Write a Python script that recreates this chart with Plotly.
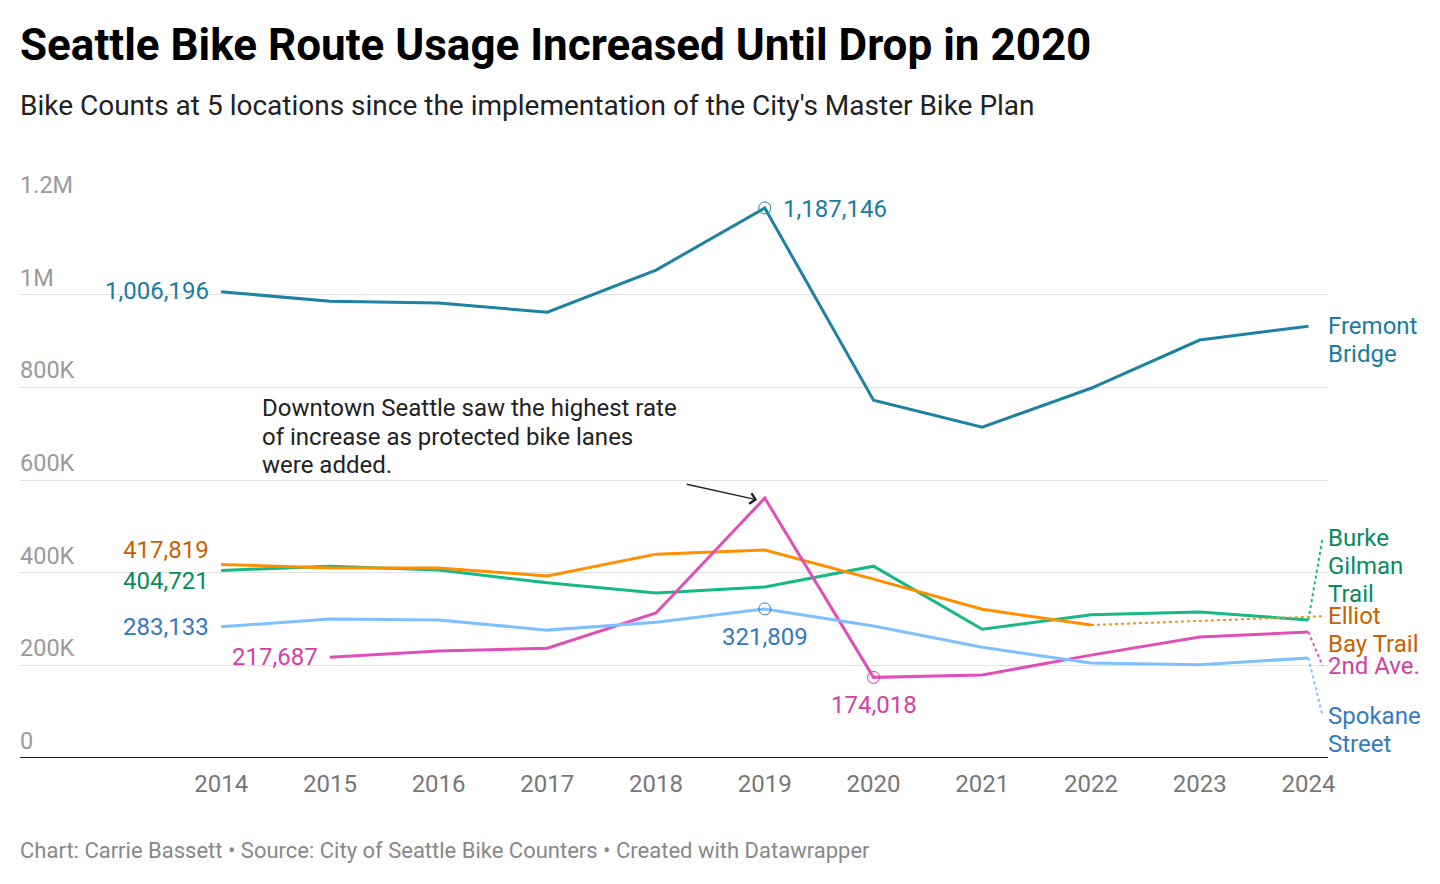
import plotly.graph_objects as go

years = [2014, 2015, 2016, 2017, 2018, 2019, 2020, 2021, 2022, 2023, 2024]

fremont = [1006196, 986000, 982000, 962000, 1053000, 1187146, 772000, 714000, 798000, 902000, 932000]
burke = [404721, 414000, 406000, 378000, 356000, 369000, 414000, 278000, 309000, 315000, 298000]
elliot = [417819, 410000, 410000, 393000, 440000, 449000, 386000, 321000, 287000, None, None]
second_ave = [None, 217687, 231000, 237000, 313000, 561000, 174018, 179000, 222000, 261000, 272000]
spokane = [283133, 300000, 298000, 276000, 293000, 321809, 285000, 239000, 205000, 201000, 216000]

y_ticks = [0, 200000, 400000, 600000, 800000, 1000000, 1200000]
y_tick_labels = ["0", "200K", "400K", "600K", "800K", "1M", "1.2M"]

series = [
    # name, values, line color, text color, end label lines, first line y (value units)
    ("Fremont Bridge", fremont, "#1d81a2", "#1a7c9d", ["Fremont", "Bridge"], 932000),
    ("Burke Gilman Trail", burke, "#15b886", "#0a8a5c", ["Burke", "Gilman", "Trail"], 475000),
    ("Elliot Bay Trail", elliot, "#ff8f00", "#c66200", ["Elliot", "Bay Trail"], 306000),
    ("2nd Ave.", second_ave, "#e04fb8", "#d23fa5", ["2nd Ave."], 199000),
    ("Spokane Street", spokane, "#80bfff", "#3379c0", ["Spokane", "Street"], 91000),
]

FONT = "Roboto"
LINE_H = 28
fig = go.Figure()

for name, vals, lc, tc, lines, fy in series:
    fig.add_trace(go.Scatter(x=years, y=vals, mode="lines", name=name,
                             line=dict(color=lc, width=3), connectgaps=False,
                             cliponaxis=False, hoverinfo="skip"))
    idx = max(i for i, v in enumerate(vals) if v is not None)
    if name != "Fremont Bridge":
        fig.add_trace(go.Scatter(x=[years[idx], 2024.13], y=[vals[idx], fy], mode="lines",
                                 line=dict(color=lc, width=2, dash="dot"),
                                 cliponaxis=False, hoverinfo="skip"))
    for i, ln in enumerate(lines):
        fig.add_annotation(x=1.0, xref="paper", y=fy, yref="y", text=ln, showarrow=False,
                           xanchor="left", yanchor="middle", align="left", yshift=-LINE_H * i,
                           xshift=-2, font=dict(family=FONT, size=24, color=tc))

# circle markers
markers = [(2019, fremont[5], "#1d81a2"), (2019, spokane[5], "#3379c0"), (2020, second_ave[6], "#d23fa5")]
for mx, my, mc in markers:
    fig.add_trace(go.Scatter(x=[mx], y=[my], mode="markers",
                             marker=dict(symbol="circle-open", size=12, color=mc, line=dict(width=1)),
                             cliponaxis=False, hoverinfo="skip"))

def fmt(v):
    return f"{v:,}"

# value labels
val_labels = [
    (2014, fremont[0], "#1a7c9d", "right", "middle", -10, -1),
    (2019, fremont[5], "#1a7c9d", "left", "middle", 16, 1),
    (2014, elliot[0], "#c66200", "right", "middle", -10, -14),
    (2014, burke[0], "#0a8a5c", "right", "middle", -10, 11),
    (2014, spokane[0], "#3379c0", "right", "middle", -10, 0),
    (2015, second_ave[1], "#d23fa5", "right", "middle", -10, 0),
    (2019, spokane[5], "#3379c0", "center", "top", 0, 12),
    (2020, second_ave[6], "#d23fa5", "center", "top", 0, 12),
]
for vx, vy, c, xa, ya, dx, dy in val_labels:
    fig.add_annotation(x=vx, y=vy, text=fmt(vy), showarrow=False, xanchor=xa, yanchor=ya,
                       xshift=dx, yshift=-dy, font=dict(family=FONT, size=24, color=c))

# y tick labels above gridlines
for t, lab in zip(y_ticks, y_tick_labels):
    fig.add_annotation(x=0, xref="paper", y=t, yref="y", text=lab, showarrow=False,
                       xanchor="left", yanchor="bottom", yshift=1, xshift=-2,
                       font=dict(family=FONT, size=23.5, color="#9a9a9a"))

# annotation arrow + text
fig.add_annotation(x=2018.93, y=557000, ax=-72, ay=-16, text="", showarrow=True,
                   arrowhead=4, arrowsize=1.6, arrowwidth=1.3, arrowcolor="#222")
note_lines = ["Downtown Seattle saw the highest rate", "of increase as protected bike lanes", "were added."]
for i, ln in enumerate(note_lines):
    fig.add_annotation(x=2014.377, y=755000, text=ln, showarrow=False, xanchor="left",
                       yanchor="middle", yshift=-28.5 * i, xshift=-2,
                       font=dict(family=FONT, size=24, color="#222"))

# title, subtitle, footer (paper coords relative to plot area: top 202px, bottom 758px)
def py(px):
    return (758 - px) / 556

fig.add_annotation(x=0, y=py(45), xref="paper", yref="paper", xanchor="left", yanchor="middle",
                   xshift=-2, text="<b>Seattle Bike Route Usage Increased Until Drop in 2020</b>",
                   showarrow=False, font=dict(family=FONT, size=44, color="#000"))
fig.add_annotation(x=0, y=py(106), xref="paper", yref="paper", xanchor="left", yanchor="middle",
                   xshift=-2,
                   text="Bike Counts at 5 locations since the implementation of the City's Master Bike Plan",
                   showarrow=False, font=dict(family=FONT, size=28, color="#222"))
fig.add_annotation(x=0, y=py(850), xref="paper", yref="paper", xanchor="left", yanchor="middle",
                   xshift=-2,
                   text="Chart: Carrie Bassett • Source: City of Seattle Bike Counters • Created with Datawrapper",
                   showarrow=False, font=dict(family=FONT, size=22, color="#888"))

fig.update_layout(
    width=1424, height=868,
    margin=dict(l=12, r=104, t=194, b=118),
    paper_bgcolor="white", plot_bgcolor="white",
    showlegend=False,
    xaxis=dict(range=[2012.15, 2024.18], tickvals=years, ticktext=[str(y) for y in years],
               showgrid=False, zeroline=False, showline=False, ticks="",
               ticklabelstandoff=9,
               tickfont=dict(family=FONT, size=24, color="#777")),
    yaxis=dict(range=[0, 1200000], tickvals=y_ticks, showticklabels=False,
               showgrid=True, gridcolor="#e3e3e3", gridwidth=1, zeroline=False, showline=False),
    shapes=[dict(type="line", xref="paper", yref="y", x0=0, x1=1, y0=0, y1=0,
                 line=dict(color="#222", width=2))],
)
fig.write_html("out.html")
